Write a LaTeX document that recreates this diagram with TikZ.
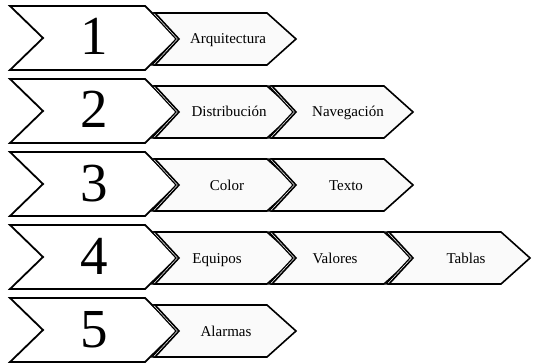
\documentclass[tikz,border=0pt]{standalone}
\usepackage{fontspec}
\setmainfont{Liberation Serif}
\tikzset{
  bigline/.style={draw=black, line width=1.8pt, fill=white, line join=miter},
  smallline/.style={draw=black, line width=1.6pt, fill=gray!4, line join=miter},
  ghostline/.style={draw=black, line width=1.2pt, fill=white, line join=miter},
  numlabel/.style={font=\fontsize{55}{55}\selectfont, inner sep=0pt, anchor=base},
  steplabel/.style={font=\fontsize{15}{17}\selectfont, inner sep=0pt, anchor=base},
  bigchev/.pic={
    \path[bigline] (-84,-32) -- (51,-32) -- (84,0) -- (51,32) -- (-84,32) -- (-51,0) -- cycle;
  },
  smallchev/.pic={
    \path[ghostline] (-3,-26) -- (109,-26) -- (138,0) -- (109,26) -- (-3,26) -- (21,0) -- cycle;
    \path[smallline] (0,-26) -- (112,-26) -- (141,0) -- (112,26) -- (0,26) -- (24,0) -- cycle;
  }
}
\begin{document}
\begin{tikzpicture}[x=1pt,y=-1pt]
\useasboundingbox (0,0) rectangle (534,363);
\fill[white] (0,0) rectangle (534,363);

% row 1
\pic at (94,38) {bigchev};
\node[numlabel] (n1) at (94,55) {1};
\pic at (155,39) {smallchev};
\node[steplabel] (s11) at (228,44) {Arquitectura};

% row 2
\pic at (94,111) {bigchev};
\node[numlabel] (n2) at (94,128) {2};
\pic at (155,112) {smallchev};
\node[steplabel] (s21) at (229,117) {Distribución};
\pic at (272,112) {smallchev};
\node[steplabel] (s22) at (348,117) {Navegación};

% row 3
\pic at (94,184) {bigchev};
\node[numlabel] (n3) at (94,201) {3};
\pic at (155,185) {smallchev};
\node[steplabel] (s31) at (227,190) {Color};
\pic at (272,185) {smallchev};
\node[steplabel] (s32) at (346,190) {Texto};

% row 4
\pic at (94,257) {bigchev};
\node[numlabel] (n4) at (94,274) {4};
\pic at (155,258) {smallchev};
\node[steplabel] (s41) at (217,263) {Equipos};
\pic at (272,258) {smallchev};
\node[steplabel] (s42) at (335,263) {Valores};
\pic at (389,258) {smallchev};
\node[steplabel] (s43) at (466,263) {Tablas};

% row 5
\pic at (94,330) {bigchev};
\node[numlabel] (n5) at (94,347) {5};
\pic at (155,331) {smallchev};
\node[steplabel] (s51) at (226,336) {Alarmas};
\end{tikzpicture}
\end{document}
